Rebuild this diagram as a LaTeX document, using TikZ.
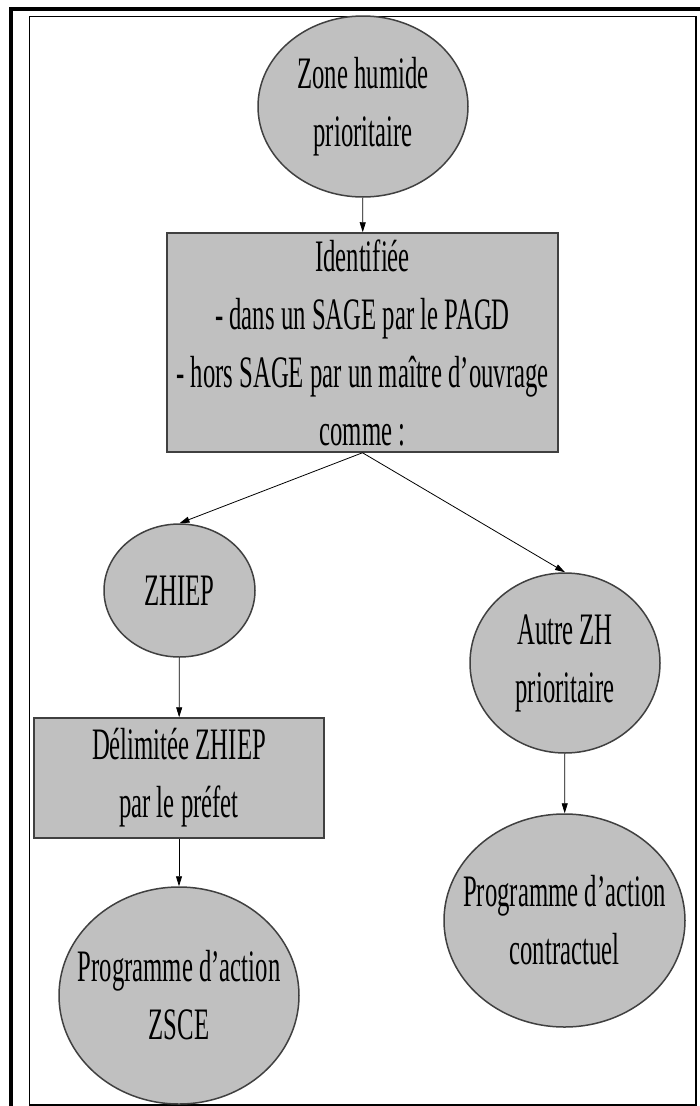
\documentclass[tikz,border=0pt]{standalone}
\usepackage{fontspec}
\setmainfont{Liberation Serif}[FakeStretch=0.55]
\usepackage{xcolor}
\usepackage{tikz}
\usetikzlibrary{shapes,arrows,arrows.meta,positioning,calc}
\definecolor{zonegray}{RGB}{192,192,192}

\begin{document}
\begin{tikzpicture}[
    x=1pt, y=-1pt,
    every node/.style={font=\fontsize{45}{58}\selectfont, align=center},
    block/.style={rectangle, draw=black!75, line width=1.5pt, fill=zonegray, inner sep=-6pt},
    zone/.style={ellipse, draw=black!75, line width=1.5pt, fill=zonegray, inner sep=-40pt},
    line/.style={draw, -{Triangle[length=10pt,width=6pt]}, line width=0.8pt}
]
    \useasboundingbox (0,0) rectangle (700,1106);
    % Frame
    \draw [line width=3.5pt] (11,1106) -- (11,9) -- (700,9);
    \draw [line width=1.5pt] (29.5,16.5) rectangle (696,1105);

    % Nodes
    \node [zone, minimum width=210pt, minimum height=181pt] (humide) at (363,106.5) {Zone humide\\prioritaire};
    \node [block, minimum width=391pt, minimum height=219pt] (identif) at (362.5,342.5) {Identifiée\\- dans un SAGE par le PAGD\\- hors SAGE par un maître d’ouvrage\\comme :};
    \node [zone, minimum width=151pt, minimum height=133pt] (zhiep) at (179.5,590.5) {ZHIEP};
    \node [zone, minimum width=190pt, minimum height=180pt] (autre) at (565,663) {Autre ZH\\prioritaire};
    \node [block, minimum width=290pt, minimum height=120pt] (delim) at (179,778) {Délimitée ZHIEP\\par le préfet};
    \node [zone, minimum width=240pt, minimum height=217pt] (zsce) at (179,995.5) {Programme d’action\\ZSCE};
    \node [zone, minimum width=241pt, minimum height=213pt] (contrat) at (564.5,920.5) {Programme d’action\\contractuel};

    % Edges
    \path [line] (humide) -- (identif);
    \path [line] (identif.south) -- (zhiep.north);
    \path [line] (identif.south) -- (autre.north);
    \path [line] (zhiep) -- (delim);
    \path [line] (delim) -- (zsce);
    \path [line] (autre) -- (contrat);
\end{tikzpicture}
\end{document}
